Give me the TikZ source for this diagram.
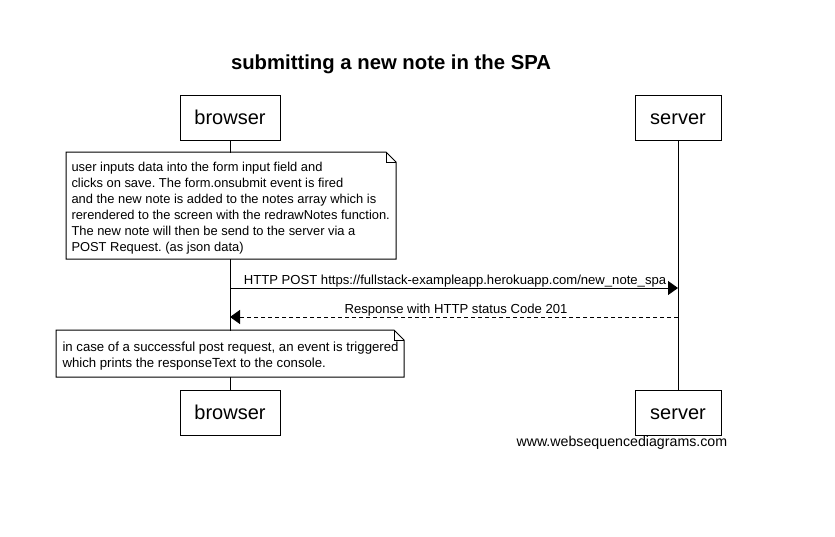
\documentclass[tikz,border=0pt]{standalone}
\usepackage{fontspec}
\setmainfont{Liberation Sans}
\usetikzlibrary{arrows.meta}
\frenchspacing
\begin{document}
\begin{tikzpicture}[x=1pt,y=-1pt,
  every path/.style={line width=1pt},
  actor/.style={draw,fill=white,minimum width=100pt,minimum height=45pt,inner sep=0pt,text height=16.5pt,text depth=3.5pt,font=\fontsize{20}{22}\selectfont},
  notebox/.style={anchor=north west,inner sep=0pt,fill=white},
  notetext/.style={anchor=west,inner sep=0pt,align=left,font=\fontsize{12.9}{16}\selectfont},
  lbl/.style={font=\fontsize{13.1}{14}\selectfont,inner sep=0pt,anchor=base,yshift=4pt},
  msg/.style={-{Triangle[length=10pt,width=14pt]}},
]
\useasboundingbox (0,0) rectangle (835,536);
\node[font=\bfseries\fontsize{20.3}{22}\selectfont] (title) at (391,64) {submitting a new note in the SPA};
\node[actor] (b1) at (230,117.5) {browser};
\node[actor,minimum width=86pt] (s1) at (678,117.5) {server};
\node[actor] (b2) at (230,412.5) {browser};
\node[actor,minimum width=86pt] (s2) at (678,412.5) {server};
\draw (b1.south) -- (b2.north);
\draw (s1.south) -- (s2.north);
% note 1
\node[notebox,minimum width=329pt,minimum height=106pt] (n1) at (66,152) {};
\draw (n1.north west) -- ([xshift=-10pt]n1.north east) -- ([yshift=-10pt]n1.north east) -- (n1.south east) -- (n1.south west) -- cycle;
\draw ([xshift=-10pt]n1.north east) -- ([xshift=-10pt,yshift=-10pt]n1.north east) -- ([yshift=-10pt]n1.north east);
\node[notetext] (t1) at ([xshift=5pt,yshift=-2.5pt]n1.west) {user inputs data into the form input field and\\clicks on save. The form.onsubmit event is fired\\and the new note is added to the notes array which is\\rerendered to the screen with the redrawNotes function.\\The new note will then be send to the server via a\\POST Request. (as json data)};
% messages
\coordinate (m1a) at (b1.south |- 0,288);
\coordinate (m1b) at (s1.south |- 0,288);
\draw[msg] (m1a) -- (m1b) node[lbl,pos=0.5,xshift=1pt] (l1) {HTTP POST https://fullstack-exampleapp.herokuapp.com/new\_note\_spa};
\coordinate (m2a) at (s1.south |- 0,317);
\coordinate (m2b) at (b1.south |- 0,317);
\draw[msg,dash pattern=on 4pt off 3pt] (m2a) -- (m2b) node[lbl,pos=0.5,xshift=2pt] (l2) {Response with HTTP status Code 201};
% note 2
\node[notebox,minimum width=347pt,minimum height=46pt] (n2) at (56,330) {};
\draw (n2.north west) -- ([xshift=-10pt]n2.north east) -- ([yshift=-10pt]n2.north east) -- (n2.south east) -- (n2.south west) -- cycle;
\draw ([xshift=-10pt]n2.north east) -- ([xshift=-10pt,yshift=-10pt]n2.north east) -- ([yshift=-10pt]n2.north east);
\node[notetext,font=\fontsize{13.2}{16}\selectfont] (t2) at ([xshift=6pt,yshift=-2.5pt]n2.west) {in case of a successful post request, an event is triggered\\which prints the responseText to the console.};
\node[font=\fontsize{14.2}{16}\selectfont,anchor=west,inner sep=0pt] (wsd) at (516,443) {www.websequencediagrams.com};
\end{tikzpicture}
\end{document}
